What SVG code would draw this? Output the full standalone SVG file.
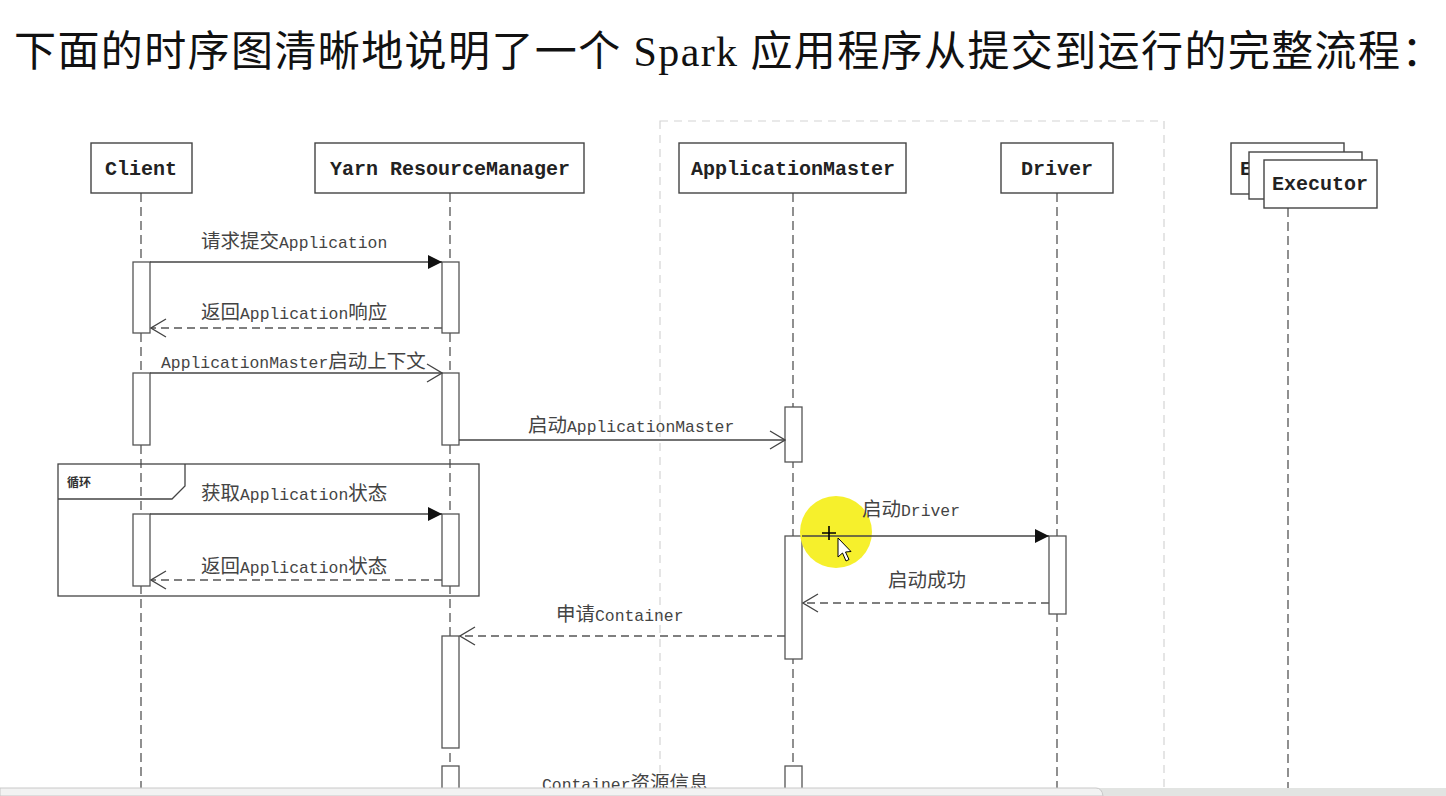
<svg xmlns="http://www.w3.org/2000/svg" width="1446" height="796" viewBox="0 0 1446 796">
<style>
.title{font-family:"Liberation Serif","Noto Sans CJK SC",serif;font-size:42px;letter-spacing:1.4px;fill:#111}
.hdr{font-family:"Liberation Mono","Noto Sans CJK SC",monospace;font-size:20px;font-weight:bold;fill:#222;text-anchor:middle}
.box{fill:#fff;stroke:#444;stroke-width:1.4}
.life{stroke:#555;stroke-width:1.3;stroke-dasharray:9 5;fill:none}
.act{fill:#fff;stroke:#555;stroke-width:1.3}
.msg{stroke:#444;stroke-width:1.3;fill:none}
.ret{stroke:#555;stroke-width:1.3;fill:none;stroke-dasharray:8 5}
.lbl{font-family:"Liberation Mono","Noto Sans CJK SC",monospace;font-size:16.4px;fill:#444}
.cj{font-family:"Noto Sans CJK SC",sans-serif;font-size:19.5px}
.frame{fill:none;stroke:#444;stroke-width:1.3}
.region{fill:none;stroke:#d4d4d4;stroke-width:1.2;stroke-dasharray:8 6}
</style>
<defs>
<marker id="fill" markerUnits="userSpaceOnUse" markerWidth="14" markerHeight="14" refX="14" refY="7" orient="auto" viewBox="0 0 14 14">
<path d="M0,0 L14,7 L0,14 z" fill="#111"/>
</marker>
<marker id="open" markerUnits="userSpaceOnUse" markerWidth="17" markerHeight="20" refX="16" refY="10" orient="auto" viewBox="0 0 17 20">
<path d="M1,1 L16,10 L1,19" fill="none" stroke="#444" stroke-width="1.3"/>
</marker>
</defs>
<rect width="1446" height="796" fill="#fff"/>
<text class="title" x="14" y="66">下面的时序图清晰地说明了一个 Spark 应用程序从提交到运行的完整流程：</text>

<rect class="region" x="660" y="121" width="504" height="690"/>

<g id="client">
<line class="life" x1="141" y1="193" x2="141" y2="796"/>
<rect class="box" x="91" y="143" width="101" height="50"/>
<text class="hdr" x="141" y="175">Client</text>
</g>
<g id="resourcemanager">
<line class="life" x1="450" y1="193" x2="450" y2="796"/>
<rect class="box" x="315" y="143" width="269" height="50"/>
<text class="hdr" x="450" y="175">Yarn ResourceManager</text>
</g>
<g id="applicationmaster">
<line class="life" x1="793" y1="193" x2="793" y2="796"/>
<rect class="box" x="679" y="143" width="227" height="50"/>
<text class="hdr" x="793" y="175">ApplicationMaster</text>
</g>
<g id="driver">
<line class="life" x1="1057" y1="193" x2="1057" y2="796"/>
<rect class="box" x="1001" y="143" width="112" height="50"/>
<text class="hdr" x="1057" y="175">Driver</text>
</g>
<g id="executor">
<line class="life" x1="1288" y1="208" x2="1288" y2="796"/>
<rect class="box" x="1231" y="143" width="113" height="51"/>
<text class="hdr" x="1246" y="175">E</text>
<rect class="box" x="1249" y="152" width="113" height="47"/>
<rect class="box" x="1264" y="160" width="113" height="48"/>
<text class="hdr" x="1320" y="190">Executor</text>
</g>

<g id="activations">
<rect class="act" x="133" y="262" width="17" height="71"/>
<rect class="act" x="133" y="373" width="17" height="72"/>
<rect class="act" x="133" y="514" width="17" height="72"/>
<rect class="act" x="442" y="262" width="17" height="71"/>
<rect class="act" x="442" y="373" width="17" height="72"/>
<rect class="act" x="442" y="514" width="17" height="72"/>
<rect class="act" x="442" y="636" width="17" height="112"/>
<rect class="act" x="442" y="766" width="17" height="40"/>
<rect class="act" x="785" y="407" width="17" height="55"/>
<rect class="act" x="785" y="536" width="17" height="123"/>
<rect class="act" x="785" y="766" width="17" height="40"/>
<rect class="act" x="1049" y="536" width="17" height="78"/>
</g>

<g id="loop">
<rect class="frame" x="58" y="464" width="421" height="132"/>
<path class="frame" d="M58,499 L172,499 L185,486 L185,464"/>
<text x="67" y="487" font-family="Noto Sans CJK SC,sans-serif" font-size="12" font-weight="bold" fill="#333">循环</text>
</g>

<circle cx="836" cy="532" r="36" fill="#f6f02c"/>

<g id="connectors">
<line class="msg" x1="150" y1="262" x2="442" y2="262" marker-end="url(#fill)"/>
<line class="ret" x1="442" y1="328" x2="151" y2="328" marker-end="url(#open)"/>
<line class="msg" x1="150" y1="373" x2="442" y2="373" marker-end="url(#open)"/>
<line class="msg" x1="459" y1="440" x2="785" y2="440" marker-end="url(#open)"/>
<line class="msg" x1="150" y1="514" x2="442" y2="514" marker-end="url(#fill)"/>
<line class="ret" x1="442" y1="580" x2="151" y2="580" marker-end="url(#open)"/>
<line class="msg" x1="802" y1="536" x2="1049" y2="536" marker-end="url(#fill)"/>
<line class="ret" x1="1049" y1="603" x2="803" y2="603" marker-end="url(#open)"/>
<line class="ret" x1="785" y1="636" x2="460" y2="636" marker-end="url(#open)"/>
</g>

<g id="labels">
<text class="lbl" x="201" y="248"><tspan class="cj">请求提交</tspan>Application</text>
<text class="lbl" x="201" y="319"><tspan class="cj">返回</tspan>Application<tspan class="cj">响应</tspan></text>
<text class="lbl" x="161" y="368">ApplicationMaster<tspan class="cj">启动上下文</tspan></text>
<text class="lbl" x="528" y="432"><tspan class="cj">启动</tspan>ApplicationMaster</text>
<text class="lbl" x="201" y="500"><tspan class="cj">获取</tspan>Application<tspan class="cj">状态</tspan></text>
<text class="lbl" x="201" y="573"><tspan class="cj">返回</tspan>Application<tspan class="cj">状态</tspan></text>
<text class="lbl" x="862" y="516"><tspan class="cj">启动</tspan>Driver</text>
<text class="lbl" x="888" y="587"><tspan class="cj">启动成功</tspan></text>
<text class="lbl" x="556" y="621"><tspan class="cj">申请</tspan>Container</text>
<text class="lbl" x="542" y="790">Container<tspan class="cj">资源信息</tspan></text>
</g>

<g id="cursor" stroke="#000" stroke-width="1">
<path d="M822,533 H836 M829,526 V540" fill="none" stroke-width="1.6"/>
<path d="M838,538 L838,557 L842.5,553 L846,561 L849,559.5 L845.5,552 L851,551.5 Z" fill="#fff"/>
</g>

<rect x="0" y="788" width="1446" height="8" fill="#e2e4e2"/>
<path d="M0,788 H1096 Q1102,788 1103,796 H0 Z" fill="#f2f2f2" stroke="#c8c8c8" stroke-width="1"/>
</svg>
